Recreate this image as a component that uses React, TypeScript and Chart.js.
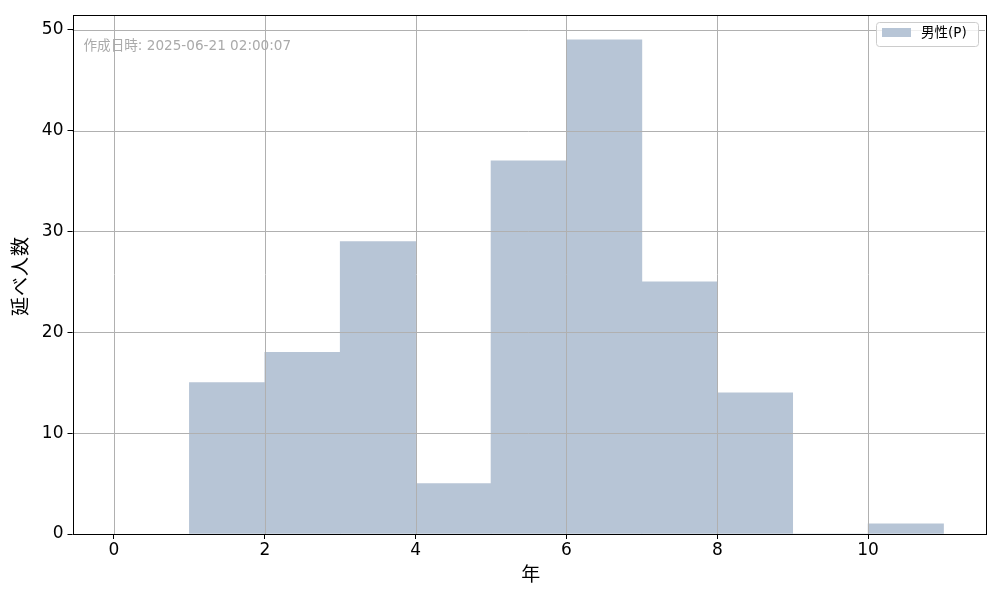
import React, { useEffect, useRef } from "react";
import { Chart, registerables } from "chart.js";

Chart.register(...registerables);

const binCenters = [1.5, 2.5, 3.5, 4.5, 5.5, 6.5, 7.5, 8.5, 9.5, 10.5];
const counts = [15, 18, 29, 5, 37, 49, 25, 14, 0, 1];
const xTicks = [0, 2, 4, 6, 8, 10];
const yTicks = [0, 10, 20, 30, 40, 50];
const seriesLabel = "男性(P)";
const xTitle = "年";
const yTitle = "延べ人数";
const stamp = "作成日時: 2025-06-21 02:00:07";

const FONT = "'DejaVu Sans', 'Noto Sans CJK JP', sans-serif";
const BAR = "rgb(183,197,214)";
const GRID = "#b0b0b0";

const overlay = {
  id: "overlay",
  afterDatasetsDraw(chart: any) {
    const { ctx, chartArea: a, scales } = chart;
    ctx.save();
    ctx.strokeStyle = GRID;
    ctx.lineWidth = 1;
    for (const t of xTicks) {
      const x = Math.round(scales.x.getPixelForValue(t)) + 0.5;
      ctx.beginPath();
      ctx.moveTo(x, a.top);
      ctx.lineTo(x, a.bottom);
      ctx.stroke();
    }
    for (const t of yTicks) {
      const y = Math.round(scales.y.getPixelForValue(t)) + 0.5;
      ctx.beginPath();
      ctx.moveTo(a.left, y);
      ctx.lineTo(a.right, y);
      ctx.stroke();
    }
    // frame
    ctx.strokeStyle = "#000";
    ctx.lineWidth = 1;
    ctx.strokeRect(Math.round(a.left) + 0.5, Math.round(a.top) + 0.5, Math.round(a.right - a.left), Math.round(a.bottom - a.top));
    // timestamp
    ctx.fillStyle = "#aaaaaa";
    ctx.font = `13.6px ${FONT}`;
    ctx.textBaseline = "middle";
    ctx.textAlign = "left";
    ctx.fillText(stamp, a.left + 11, a.top + 31);
    // legend
    const lx = 876.5, ly = 22.5, lw = 102, lh = 24;
    ctx.fillStyle = "rgba(255,255,255,0.8)";
    ctx.strokeStyle = "#cccccc";
    ctx.beginPath();
    (ctx as any).roundRect(lx, ly, lw, lh, 3);
    ctx.fill();
    ctx.stroke();
    ctx.fillStyle = BAR;
    ctx.fillRect(882, 28, 29, 9);
    ctx.fillStyle = "#000";
    ctx.font = `13.5px ${FONT}`;
    ctx.fillText(seriesLabel, 921, 33);
    // axis titles
    ctx.font = `19px ${FONT}`;
    ctx.textAlign = "center";
    ctx.fillText(xTitle, (a.left + a.right) / 2 + 2, 576);
    ctx.translate(22, 276);
    ctx.rotate(-Math.PI / 2);
    (ctx as any).letterSpacing = "1px";
    ctx.fillText(yTitle, 0, 0);
    ctx.restore();
  },
};

export default function App() {
  const ref = useRef<HTMLCanvasElement>(null);
  useEffect(() => {
    document.body.style.margin = "0";
    const chart = new Chart(ref.current!, {
      type: "bar",
      data: {
        datasets: [
          {
            label: seriesLabel,
            data: binCenters.map((x, i) => ({ x, y: counts[i] })),
            backgroundColor: BAR,
            borderWidth: 0,
            barPercentage: 1,
            categoryPercentage: 1,
          },
        ],
      },
      options: {
        animation: false,
        responsive: false,
        maintainAspectRatio: false,
        layout: { padding: { left: 0, top: 15, right: 15, bottom: 0 } },
        plugins: { legend: { display: false }, tooltip: { enabled: false } },
        scales: {
          x: {
            type: "linear",
            offset: false,
            min: -0.55,
            max: 11.55,
            afterBuildTicks: (s: any) => {
              s.ticks = xTicks.map((v) => ({ value: v }));
            },
            afterFit: (s: any) => {
              s.height = 66;
            },
            grid: { display: true, offset: false, drawOnChartArea: false, drawTicks: true, tickLength: 5, tickColor: "#000" },
            border: { display: false },
            ticks: { color: "#000", font: { family: FONT, size: 17 }, padding: 1, maxRotation: 0 },
          },
          y: {
            type: "linear",
            min: 0,
            max: 51.45,
            afterBuildTicks: (s: any) => {
              s.ticks = yTicks.map((v) => ({ value: v }));
            },
            afterFit: (s: any) => {
              s.width = 72.5;
            },
            grid: { display: true, drawOnChartArea: false, drawTicks: true, tickLength: 5, tickColor: "#000" },
            border: { display: false },
            ticks: { color: "#000", font: { family: FONT, size: 17 }, padding: 4 },
          },
        },
      },
      plugins: [overlay],
    });
    return () => chart.destroy();
  }, []);
  return (
    <div style={{ width: 1000, height: 600 }}>
      <canvas ref={ref} width={1000} height={600} style={{ display: "block" }} />
    </div>
  );
}
